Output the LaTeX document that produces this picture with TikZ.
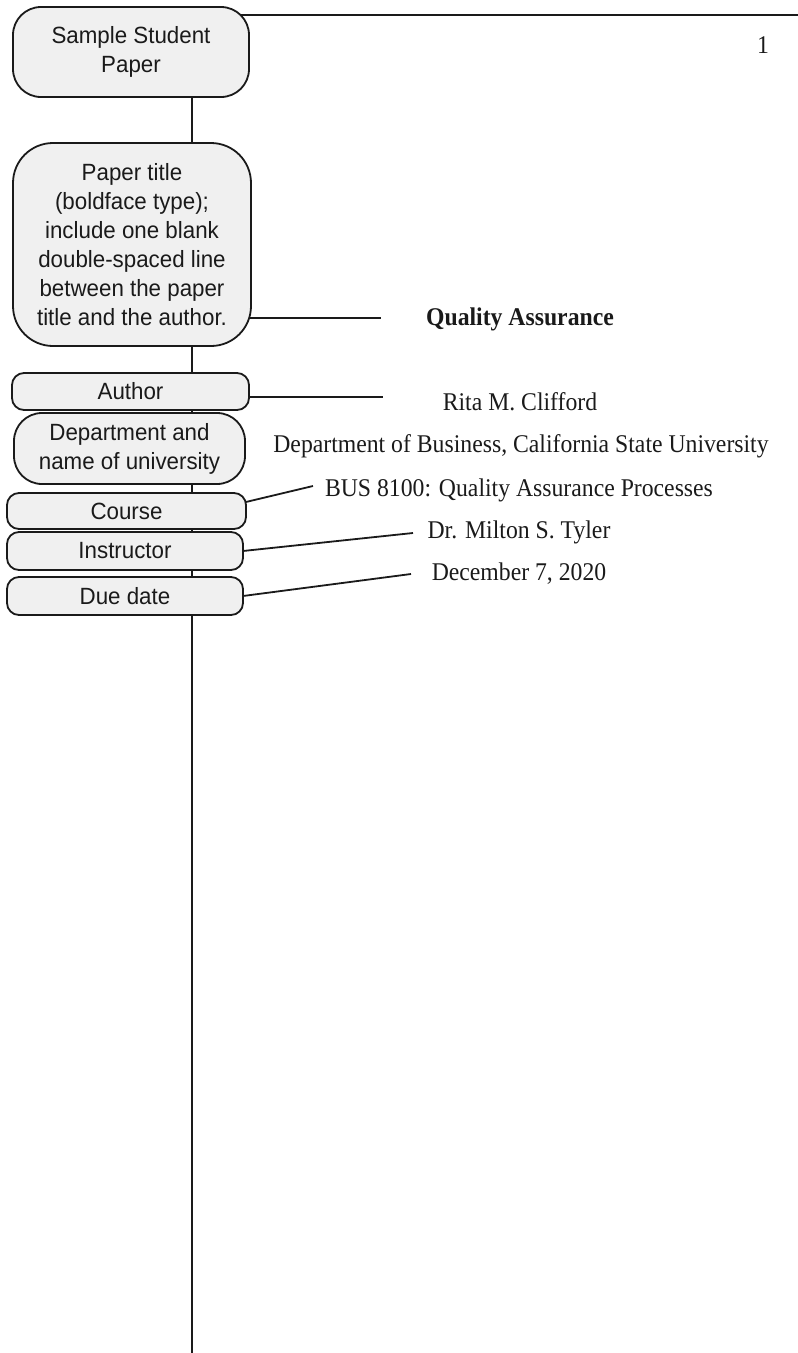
\documentclass[tikz,border=0pt]{standalone}
\usepackage{fontspec}
\newfontfamily\boxfont[FakeStretch=0.95]{Liberation Sans}
\newfontfamily\pagefont[FakeStretch=0.93]{Liberation Serif}
\usetikzlibrary{calc,backgrounds}
\definecolor{boxfill}{HTML}{F0F0F0}
\definecolor{ink}{HTML}{1A1A1A}
\tikzset{
  lab/.style={draw=ink, fill=boxfill, line width=1.8pt, inner sep=0pt, align=center,
    text=ink, font=\boxfont\fontsize{23.5}{29}\selectfont},
  conn/.style={draw=ink, line width=1.8pt},
  ptext/.style={inner sep=0pt, anchor=base, text=ink, font=\pagefont\fontsize{25.5}{30}\selectfont}
}
\begin{document}
\begin{tikzpicture}[x=1pt,y=-1pt]
\useasboundingbox (0,0) rectangle (798,1353);
% label boxes
\node[lab, minimum width=236, minimum height=90, rounded corners=28] (paper) at (131,52) {Sample Student\\Paper};
\node[lab, minimum width=238, minimum height=203, rounded corners=40] (ptitle) at (132,244.5)
  {Paper title\\(boldface type);\\include one blank\\double-spaced line\\between the paper\\title and the author.};
\node[lab, minimum width=237, minimum height=37, rounded corners=12] (author) at (130.5,391.5) {Author};
\node[lab, minimum width=231, minimum height=71, rounded corners=28] (dept) at (129.5,448.5) {Department and\\name of university};
\node[lab, minimum width=239, minimum height=36, rounded corners=12] (course) at (126.5,511) {Course};
\node[lab, minimum width=236, minimum height=38, rounded corners=12] (instr) at (125,551) {Instructor};
\node[lab, minimum width=236, minimum height=38, rounded corners=12] (due) at (125,596) {Due date};
% page text
\node[ptext] (pnum) at (763,53) {1};
\node[ptext, font=\pagefont\bfseries\fontsize{25.5}{30}\selectfont] (qa) at (520,325) {Quality Assurance};
\node[ptext] (rita) at (520,410) {Rita M. Clifford};
\node[ptext] (deptt) at (521,452) {Department of Business, California State University};
\node[ptext] (bus) at (519,496) {BUS 8100: Quality Assurance Processes};
\node[ptext] (tyler) at (519,538) {Dr. Milton S. Tyler};
\node[ptext] (date) at (519,580) {December 7, 2020};
% free ends
\coordinate (topR) at (798,15);
\coordinate (spineB) at (192,1353);
\coordinate (qaL) at (381,318);
\coordinate (ritaL) at (383,397);
\coordinate (busL) at (313,486);
\coordinate (tylerL) at (413,533);
\coordinate (dateL) at (411,574);
\begin{scope}[on background layer]
  \draw[conn] (paper.center |- topR) -- (topR);
  \draw[conn] (spineB |- paper.south) -- (spineB);
  \draw[conn] (ptitle.center |- qaL) -- (qaL);
  \draw[conn] (author.center |- ritaL) -- (ritaL);
  \draw[conn] ($(course.east)+(-1,-9)$) -- (busL);
  \draw[conn] ($(instr.east)+(-1,0)$) -- (tylerL);
  \draw[conn] ($(due.east)+(-1,0)$) -- (dateL);
\end{scope}
\end{tikzpicture}
\end{document}
